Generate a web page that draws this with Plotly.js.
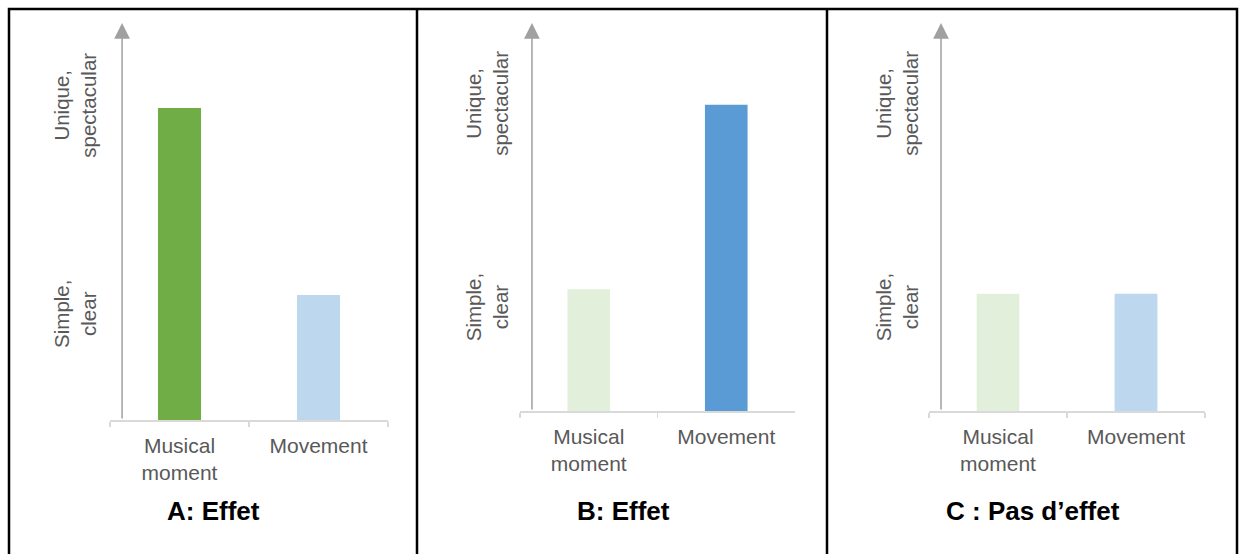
<!DOCTYPE html>
<html>
<head>
<meta charset="utf-8">
<script src="https://cdn.plot.ly/plotly-3.0.1.min.js"></script>
<style>html,body{margin:0;padding:0;background:#fff;}#chart{width:1245px;height:554px;}</style>
</head>
<body>
<div id="chart"></div>
<script>
// ---- data ----
const categories = ['Musical<br>moment', 'Movement'];
const panelA = [7.86, 3.15];
const panelB = [3.14, 7.89];
const panelC = [3.02, 3.02];
const yTickVals = [2.6, 7.85];
const yTickText = ['Simple,<br>clear', 'Unique,<br>spectacular'];
const panelTitles = ['A: Effet', 'B: Effet', 'C : Pas d\u2019effet'];

const colorsA = ['#70ad47', '#bdd7ee'];
const colorsB = ['#e2efda', '#5b9bd5'];
const colorsC = ['#e2efda', '#bdd7ee'];

const W = 1245, H = 554;
const px = v => v / W;
const py = v => 1 - v / H;

const panels = [
  {vals: panelA, colors: colorsA, xd: [110, 388], yd: [420, 23], titleX: 213, stand: 9},
  {vals: panelB, colors: colorsB, xd: [520, 795], yd: [411, 23], titleX: 623, stand: 7},
  {vals: panelC, colors: colorsC, xd: [929, 1205], yd: [411, 23], titleX: 1033, stand: 6}
];

const FONT = 'Liberation Sans, Arial, sans-serif';
const traces = [];
const layout = {
  width: W, height: H,
  margin: {l: 0, r: 0, t: 0, b: 0},
  paper_bgcolor: '#fff', plot_bgcolor: '#fff',
  showlegend: false,
  font: {family: FONT, color: '#595959'},
  annotations: [], shapes: []
};

panels.forEach((p, i) => {
  const s = i === 0 ? '' : String(i + 1);
  traces.push({
    type: 'bar', x: categories, y: p.vals,
    xaxis: 'x' + s, yaxis: 'y' + s,
    width: 0.31,
    marker: {color: p.colors, line: {width: 0}},
    hoverinfo: 'skip'
  });
  layout['xaxis' + s] = {
    domain: [px(p.xd[0]), px(p.xd[1])],
    anchor: 'y' + s,
    type: 'category',
    range: [-0.5, 1.5],
    showline: true, linecolor: '#d9d9d9', linewidth: 1.5,
    ticks: 'outside', tickson: 'boundaries', ticklen: 5, tickcolor: '#d9d9d9', tickwidth: 1.5,
    ticklabelstandoff: 6,
    showgrid: false, zeroline: false,
    tickfont: {size: 21, color: '#595959', family: FONT},
    fixedrange: true
  };
  layout['yaxis' + s] = {
    domain: [py(p.yd[0]), py(p.yd[1])],
    anchor: 'x' + s,
    range: [0, 10],
    showline: false, showgrid: false, zeroline: false,
    ticks: '',
    tickmode: 'array', tickvals: yTickVals, ticktext: yTickText,
    tickangle: -90,
    ticklabelstandoff: p.stand,
    tickfont: {size: 20.5, color: '#595959', family: FONT},
    fixedrange: true
  };
  // vertical axis arrow
  layout.annotations.push({
    xref: 'x' + s, yref: 'y' + s, axref: 'x' + s, ayref: 'y' + s,
    x: -0.413, y: 10, ax: -0.413, ay: 0,
    showarrow: true, arrowhead: 2, arrowsize: 2.1, arrowwidth: 1.5,
    arrowcolor: '#a0a0a0', text: ''
  });
  // panel title
  layout.annotations.push({
    xref: 'paper', yref: 'paper', x: px(p.titleX), y: py(511),
    xanchor: 'center', yanchor: 'middle', showarrow: false,
    text: '<b>' + panelTitles[i] + '</b>',
    font: {size: 26, color: '#000', family: FONT}
  });
});

// frame
layout.shapes.push({type: 'rect', xref: 'paper', yref: 'paper',
  x0: px(9), x1: px(1237), y0: py(560), y1: py(9),
  line: {color: '#000', width: 2.5}});
[417, 827].forEach(xv => layout.shapes.push({type: 'line', xref: 'paper', yref: 'paper',
  x0: px(xv), x1: px(xv), y0: py(560), y1: py(9), line: {color: '#000', width: 2.5}}));

Plotly.newPlot('chart', traces, layout, {staticPlot: true, displayModeBar: false});
</script>
</body>
</html>
